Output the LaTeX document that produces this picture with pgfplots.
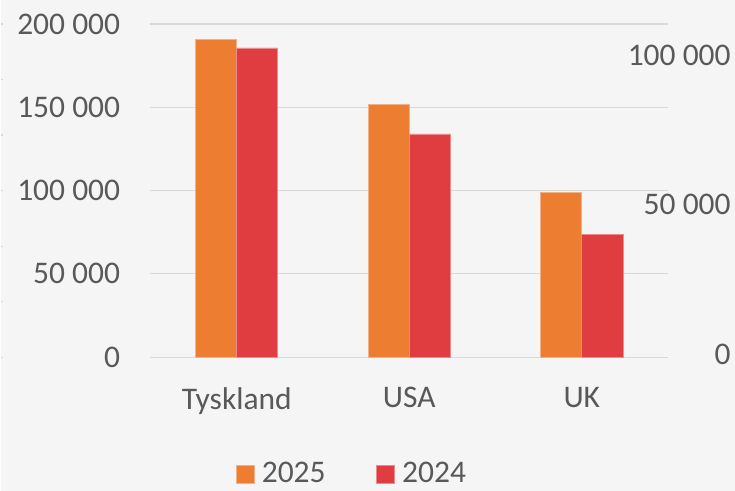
\documentclass[border=0pt]{standalone}
\usepackage{pgfplots}
\pgfplotsset{compat=1.18}
\usepackage{fontspec}
\setmainfont{Carlito}
\definecolor{bg}{HTML}{F5F5F5}
\definecolor{c2025}{HTML}{ED7D31}
\definecolor{c2024}{HTML}{E03D40}
\definecolor{txt}{HTML}{595959}
\definecolor{gridc}{HTML}{D9D9D9}

\begin{document}
\fontsize{15.75}{19}\selectfont
\begin{tikzpicture}
\fill[bg] (-75pt,-66.75pt) rectangle (292.5pt,178.75pt);
% tiny marks at the left edge
\foreach \k in {0,...,6} \draw[gridc, line width=0.6pt] (-75pt,{\k*27.79pt}) -- ++(1.2pt,0);
\begin{axis}[
  scale only axis, width=259pt, height=166.75pt,
  xmin=-0.5, xmax=2.5, ymin=0, ymax=200000,
  scaled y ticks=false,
  axis line style={draw=none},
  major tick length=0pt,
  ymajorgrids, grid style={gridc, line width=0.6pt},
  ytick={0,50000,100000,150000,200000},
  yticklabels={0,50 000,100 000,150 000,200 000},
  yticklabel style={anchor=east, inner sep=0pt, xshift=-15pt, text=txt},
  xtick={0,1,2}, xticklabels={Tyskland,USA,UK},
  xticklabel style={anchor=north, inner sep=0pt, yshift=-15pt, text=txt},
  ybar=0pt, bar width=0.238,
  legend style={at={(0.164,-0.352)}, anchor=west, draw=none, fill=none,
    inner sep=0pt, legend columns=2,
    /tikz/every even column/.append style={column sep=21.5pt},
    nodes={inner ysep=0pt, inner xsep=3.75pt, text=txt, anchor=west}},
  legend image code/.code={\fill[#1] (0pt,-4.5pt) rectangle (9pt,4.5pt);},
]
\addplot[fill=c2025, draw=c2025!60!white, line width=0.3pt] coordinates {(0,190800) (1,151700) (2,98800)};
\addlegendentry{2025}
\addplot[fill=c2024, draw=c2024!60!white, line width=0.3pt] coordinates {(0,185600) (1,134000) (2,73900)};
\addlegendentry{2024}
\end{axis}
\begin{axis}[
  scale only axis, width=259pt, height=166.75pt,
  xmin=-0.5, xmax=2.5, ymin=-833.33, ymax=110333,
  scaled y ticks=false,
  hide x axis, axis y line*=right,
  y axis line style={draw=none},
  major tick length=0pt,
  ytick={0,50000,100000}, yticklabels={0,50 000,100 000},
  yticklabel style={anchor=east, inner sep=0pt, xshift=31.5pt, text=txt},
]
\end{axis}
\end{tikzpicture}
\end{document}
